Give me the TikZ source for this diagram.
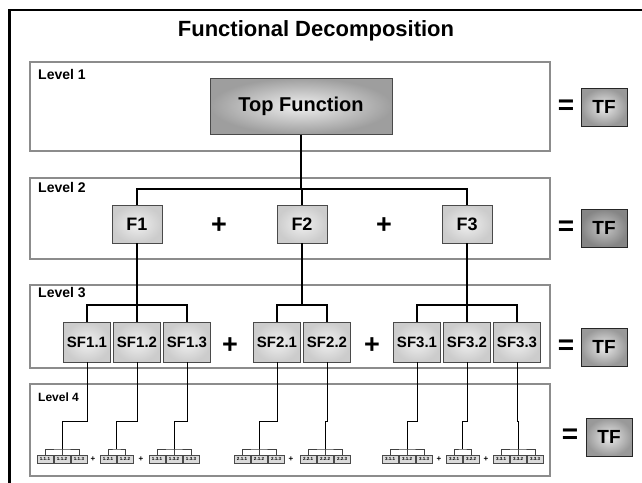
\documentclass[tikz,border=0pt]{standalone}
\usepackage{fontspec}
\setmainfont{Liberation Sans}
\definecolor{lvlgray}{HTML}{8C8C8C}
\definecolor{bord}{HTML}{4A4A4A}
\begin{document}
\begin{tikzpicture}[x=1pt,y=-1pt,
  lvl/.style={draw=lvlgray, line width=2pt, fill=white, anchor=north west, inner sep=0pt, outer sep=0pt},
  lvllab/.style={anchor=base west, inner sep=0pt, font=\fontsize{14}{16}\selectfont\bfseries},
  topbox/.style={draw=bord, line width=1pt, inner color=white!94!black, outer color=white!62!black, minimum width=182pt, minimum height=56pt, inner sep=0pt, font=\fontsize{20}{24}\selectfont\bfseries},
  fbox/.style={draw=bord, line width=0.9pt, inner color=white!94!black, outer color=white!80!black, minimum width=50pt, minimum height=38pt, inner sep=0pt, font=\fontsize{18}{22}\selectfont\bfseries},
  sfbox/.style={fbox, minimum width=47pt, minimum height=40pt, font=\fontsize{15}{17}\selectfont\bfseries},
  tfbox/.style={draw=black!85, line width=1pt, inner color=white!92!black, outer color=white!60!black, minimum width=46pt, minimum height=38pt, inner sep=0pt, font=\fontsize{19}{22}\selectfont\bfseries},
  eqs/.style={inner sep=0pt, font=\fontsize{28}{30}\selectfont\bfseries},
  plus/.style={inner sep=0pt, font=\fontsize{27}{30}\selectfont\bfseries},
  sbox/.style={draw=bord, line width=0.6pt, fill=white!86!black, minimum width=16pt, minimum height=8pt, inner sep=0pt, font=\fontsize{4.5}{5}\selectfont\bfseries},
  splus/.style={inner sep=0pt, font=\fontsize{8}{9}\selectfont\bfseries},
  conn/.style={line width=1.5pt, black},
  thinconn/.style={line width=0.8pt, black},
  sconn/.style={line width=0.7pt, black!75},
]
\useasboundingbox (0,0) rectangle (642,482);
% outer frame
\draw[line width=2.5pt, black] (9.5,483) -- (9.5,10) -- (643,10);
% title
\node[inner sep=0pt, font=\fontsize{22}{26}\selectfont\bfseries] (title) at (316,31) {Functional Decomposition};
% level boxes
\node[lvl, minimum width=520pt, minimum height=89pt] (L1) at (30,62) {};
\node[lvl, minimum width=520pt, minimum height=81pt] (L2) at (30,178) {};
\node[lvl, minimum width=520pt, minimum height=83pt] (L3) at (30,285) {};
\node[lvl, minimum width=520pt, minimum height=92pt] (L4) at (30,384) {};
\node[lvllab] (lab1) at (38,79) {Level 1};
\node[lvllab] (lab2) at (38,192) {Level 2};
\node[lvllab] (lab3) at (38,297) {Level 3};
\node[lvllab, font=\fontsize{12}{14}\selectfont\bfseries] (lab4) at (38,401) {Level 4};
% level 1
\node[topbox] (top) at (301,106) {Top Function};
% level 2
\node[fbox] (f1) at (137,224) {F1};
\node[fbox] (f2) at (302,224) {F2};
\node[fbox] (f3) at (467,224) {F3};
\node[plus] (p21) at (219,226) {+};
\node[plus] (p22) at (384,226) {+};
% level 3
\node[sfbox] (sf11) at (87,342) {SF1.1};
\node[sfbox] (sf12) at (137,342) {SF1.2};
\node[sfbox] (sf13) at (187,342) {SF1.3};
\node[sfbox] (sf21) at (277,342) {SF2.1};
\node[sfbox] (sf22) at (327,342) {SF2.2};
\node[sfbox] (sf31) at (417,342) {SF3.1};
\node[sfbox] (sf32) at (467,342) {SF3.2};
\node[sfbox] (sf33) at (517,342) {SF3.3};
\node[plus] (p31) at (230,346) {+};
\node[plus] (p32) at (372,346) {+};
% equals and TF
\node[eqs] (e1) at (566,107) {=};
\node[tfbox] (tf1) at (604,107) {TF};
\node[eqs] (e2) at (566,228) {=};
\node[tfbox, inner color=white!78!black, outer color=white!52!black] (tf2) at (604,228) {TF};
\node[eqs] (e3) at (566,347) {=};
\node[tfbox] (tf3) at (604,347) {TF};
\node[eqs] (e4) at (570,436) {=};
\node[tfbox] (tf4) at (609,437) {TF};
% level 4 small boxes
\foreach \n/\x/\t in {111/45/1.1.1,112/62/1.1.2,113/79/1.1.3,121/108/1.2.1,122/125/1.2.2,131/157/1.3.1,132/174/1.3.2,133/191/1.3.3,
  211/242/2.1.1,212/259/2.1.2,213/276/2.1.3,221/308/2.2.1,222/325/2.2.2,223/342/2.2.3,
  311/390/3.1.1,312/407/3.1.2,313/424/3.1.3,321/454/3.2.1,322/471/3.2.2,331/501/3.3.1,332/518/3.3.2,333/535/3.3.3}
  {\node[sbox] (s\n) at (\x,459) {\t};}
\node[splus] (q1) at (93,459) {+};
\node[splus] (q2) at (141,459) {+};
\node[splus] (q3) at (291,459) {+};
\node[splus] (q4) at (439,459) {+};
\node[splus] (q5) at (486,459) {+};
% connectors level 1-2
\coordinate (b2) at (302,189);
\draw[conn] (top.south) -- (top.south |- b2);
\draw[conn] (f1.north) |- (b2) -| (f3.north);
\draw[conn] (f2.north) -- (b2);
% connectors level 2-3
\coordinate (b31) at (137,305);
\coordinate (b32) at (302,305);
\coordinate (b33) at (467,305);
\draw[conn] (f1.south) -- (b31);
\draw[conn] (sf11.north) |- (b31) -| (sf13.north);
\draw[conn] (sf12.north) -- (b31);
\draw[conn] (f2.south) -- (b32);
\draw[conn] (sf21.north) |- (b32) -| (sf22.north);
\draw[conn] (f3.south) -- (b33);
\draw[conn] (sf31.north) |- (b33) -| (sf33.north);
\draw[conn] (sf32.north) -- (b33);
% connectors level 3-4 (three-box groups)
\foreach \sf/\jx/\p/\q/\r in {sf11/62/s111/s113/s112, sf13/174/s131/s133/s132, sf21/259/s211/s213/s212,
  sf22/325/s221/s223/s222, sf31/407/s311/s313/s312, sf33/518/s331/s333/s332}{
  \coordinate (j\sf) at (\jx,421);
  \coordinate (c\sf) at (\jx,449);
  \draw[thinconn] (\sf.south) |- (j\sf) -- (c\sf);
  \draw[sconn] (\p.north) |- (c\sf) -| (\q.north);
  \draw[sconn] (c\sf) -- (\r.north);
}
% two-box groups
\coordinate (jsf12) at (116.5,421);
\coordinate (csf12) at (116.5,449);
\draw[thinconn] (sf12.south) |- (jsf12) -- (csf12);
\draw[sconn] (s121.north) |- (csf12) -| (s122.north);
\coordinate (jsf32) at (462.5,421);
\coordinate (csf32) at (462.5,449);
\draw[thinconn] (sf32.south) |- (jsf32) -- (csf32);
\draw[sconn] (s321.north) |- (csf32) -| (s322.north);
\end{tikzpicture}
\end{document}
